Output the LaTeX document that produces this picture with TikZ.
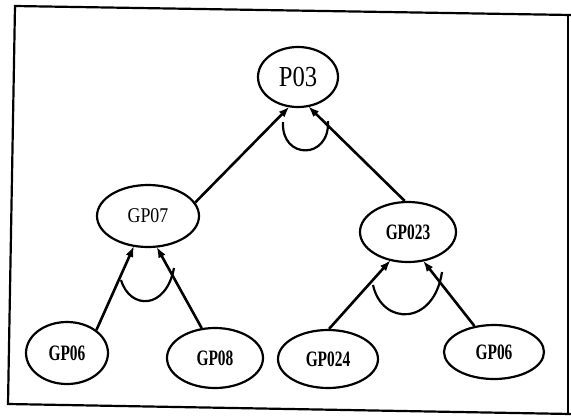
\documentclass[tikz,border=0pt]{standalone}
\usepackage{fontspec}
\setmainfont{Liberation Serif}
\newfontfamily\condreg[FakeStretch=0.85]{Liberation Serif}
\newfontfamily\condbold[FakeStretch=0.7]{Liberation Serif Bold}
\usetikzlibrary{arrows.meta,shapes.geometric}
\tikzset{
  goal/.style={draw, line width=2.2pt, ellipse, inner sep=0pt},
  lbl/.style={font=\condbold\fontsize{22}{22}\selectfont},
  link/.style={line width=2.6pt, -{Latex[length=11pt,width=8pt]}, shorten >=-1pt},
  andarc/.style={line width=2.2pt},
  frame/.style={line width=2.2pt}
}
\begin{document}
\begin{tikzpicture}[x=1pt,y=-1pt]
\useasboundingbox (0,0) rectangle (571,416);
% scanned page frame, slightly skewed
\draw[frame] (571,15) -- (15,6) -- (8,404) -- (571,414);
\draw[frame, line width=1.4pt] (568,15) -- (568,414);

% goal nodes
\node[goal, minimum width=80pt, minimum height=60pt,
      font=\condreg\fontsize{29}{29}\selectfont] (p03) at (298,77) {P03};
\node[goal, minimum width=102pt, minimum height=62pt,
      font=\condreg\fontsize{21}{21}\selectfont] (gp07) at (148,216) {GP07};
\node[goal, minimum width=96pt, minimum height=60pt, lbl] (gp023) at (408,232) {GP023};
\node[goal, minimum width=82pt, minimum height=62pt, lbl] (gp06a) at (67,353) {GP06};
\node[goal, minimum width=96pt, minimum height=60pt, lbl] (gp08) at (215,358) {GP08};
\node[goal, minimum width=100pt, minimum height=58pt, lbl] (gp024) at (328,359) {GP024};
\node[goal, minimum width=100pt, minimum height=54pt, lbl] (gp06b) at (494,352) {GP06};

% decomposition links
\draw[link] (gp07.16) -- (p03.253);
\draw[link] (gp023.96) -- (p03.290);
\draw[link] (gp06a.38) -- (gp07.245);
\draw[link] (gp08.114) -- (gp07.286);
\draw[link] (gp024.88) -- (gp023.238);
\draw[link] (gp06b.127) -- (gp023.298);

% AND arcs joining sibling links
\draw[andarc] (283,122) .. controls (281,160) and (330,160) .. (328,121);
\draw[andarc] (121,280) .. controls (130,310) and (166,310) .. (174,268);
\draw[andarc] (373,285) .. controls (382,326) and (434,326) .. (442,272);
\end{tikzpicture}
\end{document}
